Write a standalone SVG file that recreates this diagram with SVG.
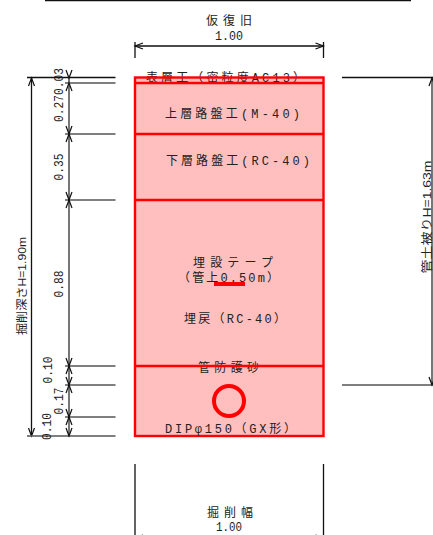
<svg xmlns="http://www.w3.org/2000/svg" width="433" height="535" viewBox="0 0 433 535">
<style>
text{font-family:"Liberation Mono","Noto Sans CJK JP",monospace;font-size:12px;fill:#222;text-anchor:middle}
.n{font-size:13px}
.s{font-family:"Liberation Sans","Noto Sans CJK JP",sans-serif;font-size:11px}
.d{stroke:#111;stroke-width:1.3;fill:none}
.g{stroke:#555;stroke-width:1.6;fill:none}
.r{stroke:#f00;stroke-width:2.4;fill:none}
.a{stroke:#111;stroke-width:1.2;fill:none}
</style>
<defs>
<path id="au" class="a" d="M-3 8L0 0L3 8"/>
<path id="ad" class="a" d="M-3 -8L0 0L3 -8"/>
<path id="al" class="a" d="M8 -3L0 0L8 3"/>
<path id="ar" class="a" d="M-8 -3L0 0L-8 3"/>
</defs>
<g id="connectors">
<path class="d" d="M45 0.500H411"/>
<path class="d" d="M135 42V58M323.500 42V58M135 46H323.500"/>
<use href="#al" x="135" y="46"/><use href="#ar" x="323.500" y="46"/>
<path class="d" d="M27 77.500H115.500M31.500 77.500V436"/>
<use href="#au" x="31.500" y="78"/><use href="#ad" x="31.500" y="436"/>
<path class="g" d="M69 78V436M65 83H115.500M65 134H115.500M65 200H115.500M65 366H115.500M65 385H115.500M65 417H115.500M27 436H115.500"/>
<use href="#au" x="69" y="83"/><use href="#ad" x="69" y="78"/>
<use href="#ad" x="69" y="134"/><use href="#au" x="69" y="134"/>
<use href="#ad" x="69" y="200"/><use href="#au" x="69" y="200"/>
<use href="#ad" x="69" y="366"/><use href="#au" x="69" y="366"/>
<use href="#ad" x="69" y="385"/><use href="#au" x="69" y="385"/>
<use href="#ad" x="69" y="417"/><use href="#au" x="69" y="417"/>
<use href="#ad" x="69" y="436"/>
<path class="d" d="M342 77.500H433"/>
<path class="g" d="M432 78V385M342 385H433"/>
<use href="#au" x="432" y="78"/><use href="#ad" x="432" y="385"/>
<path class="d" d="M135 464V535M323.500 464V535"/>
<use href="#al" x="135" y="538"/><use href="#ar" x="323.500" y="538"/>
</g>
<g id="section">
<rect x="135" y="77.500" width="188.500" height="358.500" fill="#ffbfbf" stroke="none"/>
</g>
<g id="labels-behind">
<text x="225.500" y="82" textLength="159">表層工（密粒度AC13）</text>
<text x="228.500" y="372" textLength="61">管防護砂</text>
</g>
<g id="layers">
<rect class="r" x="135" y="77.500" width="188.500" height="358.500"/>
<path class="r" d="M135 83H323.500M135 134H323.500M135 200H323.500M135 366H323.500"/>
</g>
<g id="pipe">
<circle cx="229" cy="401" r="15" fill="none" stroke="#f00" stroke-width="4"/>
<rect x="214" y="282" width="31" height="4" fill="#f00"/>
</g>
<g id="labels">
<text x="229" y="25" textLength="46">仮復旧</text>
<text x="229" y="40" class="n" textLength="28" lengthAdjust="spacingAndGlyphs">1.00</text>
<text x="232.500" y="118" textLength="135">上層路盤工(M-40)</text>
<text x="238" y="165" textLength="144">下層路盤工(RC-40)</text>
<text x="233" y="267" textLength="80">埋設テープ</text>
<text x="228.500" y="282" textLength="101">（管上0.50m）</text>
<text x="235" y="323" textLength="102">埋戻（RC-40）</text>
<text x="230.500" y="433" textLength="131">DIPφ150（GX形）</text>
<text x="230" y="517" textLength="46">掘削幅</text>
<text x="229" y="531" class="n" textLength="26" lengthAdjust="spacingAndGlyphs">1.00</text>
<text transform="translate(63 81.500) rotate(-90)" class="n" textLength="27" lengthAdjust="spacingAndGlyphs">0.03</text>
<text transform="translate(63 108.500) rotate(-90)" class="n" textLength="27" lengthAdjust="spacingAndGlyphs">0.27</text>
<text transform="translate(63 167) rotate(-90)" class="n" textLength="27" lengthAdjust="spacingAndGlyphs">0.35</text>
<text transform="translate(63 284) rotate(-90)" class="n" textLength="27" lengthAdjust="spacingAndGlyphs">0.88</text>
<text transform="translate(52 370) rotate(-90)" class="n" textLength="27" lengthAdjust="spacingAndGlyphs">0.10</text>
<text transform="translate(63 401) rotate(-90)" class="n" textLength="27" lengthAdjust="spacingAndGlyphs">0.17</text>
<text transform="translate(51 426.500) rotate(-90)" class="n" textLength="27" lengthAdjust="spacingAndGlyphs">0.10</text>
<text transform="translate(26 286) rotate(-90)" class="s" textLength="98" lengthAdjust="spacingAndGlyphs">掘削深さH=1.90m</text>
<text transform="translate(431 217) rotate(-90)" class="s" textLength="113" lengthAdjust="spacingAndGlyphs">管土被りH=1.63m</text>
</g>
</svg>
